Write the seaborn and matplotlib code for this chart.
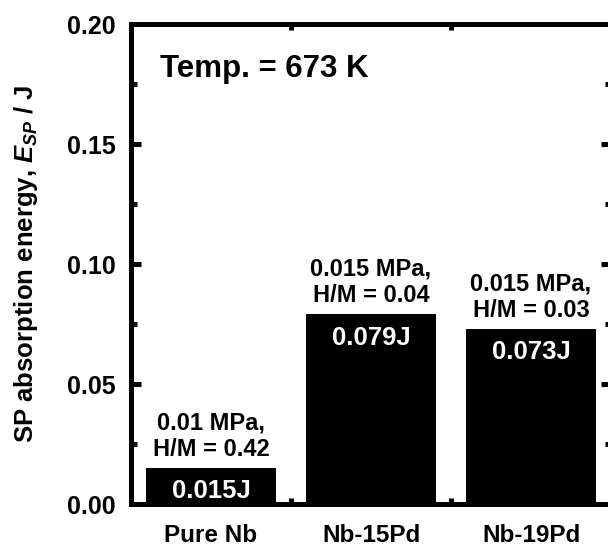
import matplotlib
matplotlib.use("Agg")
import matplotlib.pyplot as plt
from matplotlib.ticker import MultipleLocator, FixedLocator
import seaborn as sns
import pandas as pd

# Specimens and their SP absorption energy
alloys = ["Pure Nb", "Nb-15Pd", "Nb-19Pd"]
energy = [0.015, 0.079, 0.073]
conditions = ["0.01 MPa,\nH/M = 0.42", "0.015 MPa,\nH/M = 0.04", "0.015 MPa,\nH/M = 0.03"]
yticks = [0.00, 0.05, 0.10, 0.15, 0.20]
ytick_labels = ["0.00", "0.05", "0.10", "0.15", "0.20"]

sns.set_theme(style="ticks", rc={"text.color": "black", "axes.labelcolor": "black",
                                 "xtick.color": "black", "ytick.color": "black",
                                 "axes.edgecolor": "black"})
plt.rcParams["font.family"] = ["Liberation Sans", "DejaVu Sans"]
plt.rcParams["font.weight"] = "bold"
plt.rcParams["mathtext.fontset"] = "custom"
plt.rcParams["mathtext.it"] = "Liberation Sans:italic:bold"
plt.rcParams["mathtext.rm"] = "Liberation Sans:bold"
plt.rcParams["mathtext.bf"] = "Liberation Sans:bold"

df = pd.DataFrame({"alloy": alloys, "energy": energy})

fig = plt.figure(figsize=(6.08, 5.46), dpi=100)
ax = fig.add_axes([131 / 608, 1 - 504 / 546, 480 / 608, 480 / 546])

sns.barplot(data=df, x="alloy", y="energy", color="black", saturation=1,
            width=0.81, edgecolor="black", linewidth=0, ax=ax)

ax.set_xlim(-0.5, 2.5)
ax.set_ylim(0, 0.20)

for i, (v, cond) in enumerate(zip(energy, conditions)):
    ax.text(i, v + 0.003, cond, ha="center", va="bottom", fontsize=17,
            fontweight="bold", color="black", linespacing=1.2)
    ax.text(i, v - 0.0127, f"{v:.3f}J", ha="center", va="baseline", fontsize=18.5,
            fontweight="bold", color="white")

ax.text(0.06, (504 - 77) / 480, "Temp. = 673 K", transform=ax.transAxes, ha="left",
        va="baseline", fontsize=22.5, fontweight="bold", color="black")

ax.set_xlabel("")
ax.set_ylabel("SP absorption energy, $E_{SP}$ / J", fontsize=18.5,
              fontweight="bold", color="black")
ax.yaxis.set_label_coords(-0.19, 0.5)

ax.set_yticks(yticks)
ax.set_yticklabels(ytick_labels)
ax.yaxis.set_minor_locator(MultipleLocator(0.025))
ax.xaxis.set_minor_locator(FixedLocator([0.5, 1.5]))

for s in ax.spines.values():
    s.set_linewidth(3.6)
    s.set_color("black")
    s.set_visible(True)

ax.tick_params(axis="y", which="major", direction="in", length=7.5, width=3.6,
               left=True, right=True, labelsize=18, pad=11, colors="black")
ax.tick_params(axis="y", which="minor", direction="in", length=4.5, width=3.6,
               left=True, right=True)
ax.tick_params(axis="x", which="major", length=0, labelsize=17.5, pad=14.5,
               colors="black")
ax.tick_params(axis="x", which="minor", direction="in", length=4.5, width=3.6,
               bottom=True, top=True)
for lab in ax.get_xticklabels() + ax.get_yticklabels():
    lab.set_fontweight("bold")

fig.savefig("out.png", dpi=100)
